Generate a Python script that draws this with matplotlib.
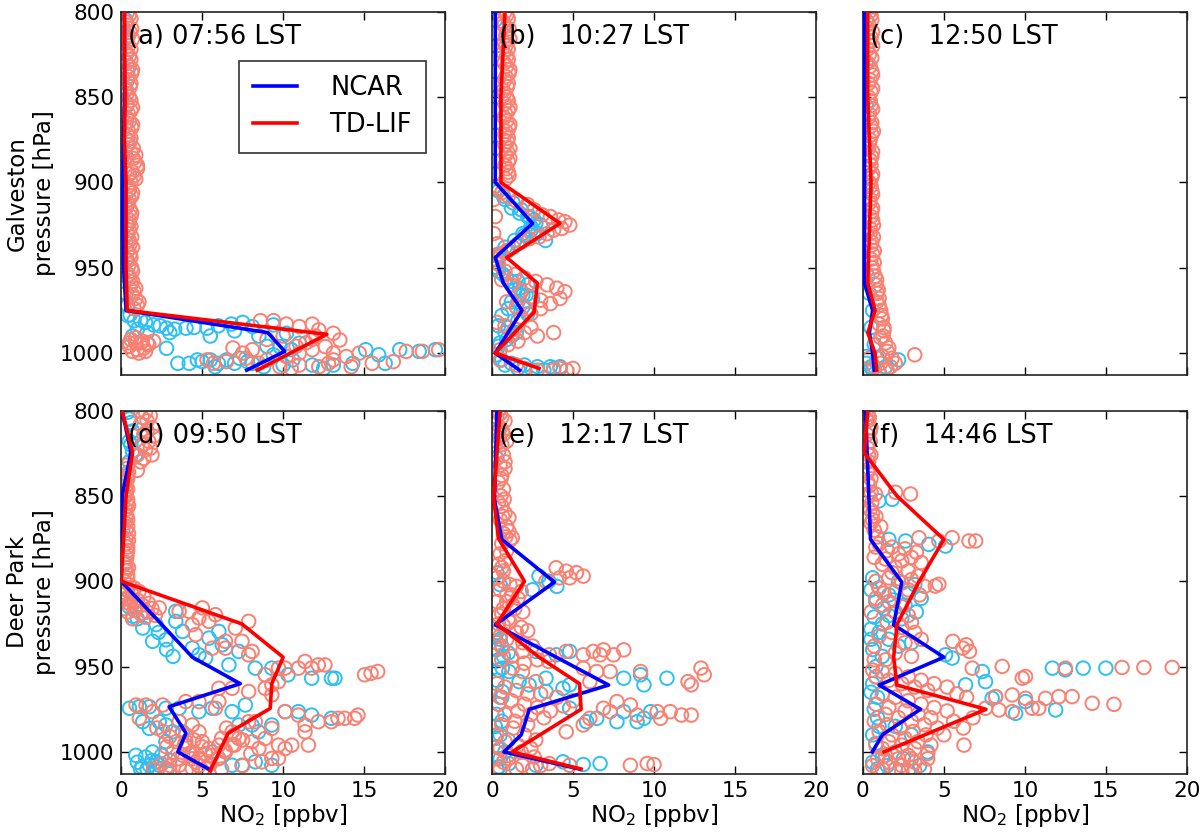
import numpy as np
import matplotlib
matplotlib.use('Agg')
import matplotlib.pyplot as plt

plt.rcParams['font.family'] = ['DejaVu Sans']

# ---- panel labels ----
panel_labels = ['(a) 07:56 LST', '(b)   10:27 LST', '(c)   12:50 LST',
                '(d) 09:50 LST', '(e)   12:17 LST', '(f)   14:46 LST']
row_labels = ['Galveston\npressure [hPa]', 'Deer Park\npressure [hPa]']
xlabel = 'NO$_2$ [ppbv]'

# ---- binned profiles (x = NO2 ppbv, p = hPa) ----
ncar_prof_a_x = [0.2, 0.2, 0.2, 0.15, 0.1, 0.1, 0.15, 0.3, 9.05, 10.1, 7.75]
ncar_prof_a_p = [800, 825, 850, 875, 900, 925, 950, 975, 988, 999, 1010]
tdlif_prof_a_x = [0.2, 0.2, 0.25, 0.2, 0.3, 0.3, 0.3, 0.37, 12.7, 8.4]
tdlif_prof_a_p = [800, 825, 850, 875, 900, 925, 950, 975, 989, 1010]

ncar_prof_b_x = [0.2, 0.2, 0.2, 0.2, 0.2, 2.5, 0.2, 0.7, 1.85, 0.2, 1.7]
ncar_prof_b_p = [800, 825, 850, 875, 900, 924, 944, 959, 975, 1000, 1010]
tdlif_prof_b_x = [0.8, 0.55, 0.55, 4.2, 0.9, 2.8, 2.6, 0.2, 2.9]
tdlif_prof_b_p = [800, 849, 900, 924, 944, 959, 976, 1000, 1009]

ncar_prof_c_x = [0.1, 0.1, 0.1, 0.1, 0.6, 0.4, 0.6, 0.7]
ncar_prof_c_p = [800, 850, 900, 959, 975, 988, 1000, 1010]
tdlif_prof_c_x = [0.3, 0.3, 0.5, 0.3, 0.75, 0.3, 0.75, 0.85]
tdlif_prof_c_p = [800, 850, 900, 959, 975, 988, 1000, 1010]

ncar_prof_d_x = [0.06, 0.6, 0.06, 0.03, 0.0, 4.4, 7.35, 2.96, 4.0, 3.5, 5.4]
ncar_prof_d_p = [800, 824.5, 850, 875, 900, 944.5, 960, 973.5, 989, 1000, 1010]
tdlif_prof_d_x = [0.06, 0.7, 0.3, 0.0, 7.45, 10.0, 9.3, 9.2, 6.6, 5.5]
tdlif_prof_d_p = [800, 824.5, 850, 900, 925, 944.5, 960, 974.5, 989, 1011]

ncar_prof_e_x = [0.3, 0.15, 0.6, 3.85, 0.2, 7.2, 2.3, 1.8, 0.73, 5.4]
ncar_prof_e_p = [800, 852, 875.5, 900.5, 925.5, 960.8, 975, 990, 1000, 1010]
tdlif_prof_e_x = [0.5, 0.1, 0.4, 2.0, 0.3, 2.9, 5.4, 5.5, 1.25, 5.5]
tdlif_prof_e_p = [800, 852, 875, 900, 925, 944.5, 960, 975, 1000, 1010]

ncar_prof_f_x = [0.16, 0.47, 2.4, 1.9, 5.0, 1.0, 3.55, 1.2, 0.58]
ncar_prof_f_p = [800, 875.5, 900.5, 925.5, 944.5, 960.8, 975, 990, 1000]
tdlif_prof_f_x = [0.3, 0.1, 2.1, 5.0, 3.45, 2.1, 1.9, 2.1, 7.6, 1.3]
tdlif_prof_f_p = [800, 825, 850, 875.5, 900.5, 925.5, 944.5, 960.8, 975, 1000]

# ---- individual measurements (x, p) ----
ncar_pts_a = [
    (0.3, 805), (0.35, 815), (0.3, 825), (0.4, 835), (0.3, 845), (0.35, 855),
    (0.3, 865), (0.4, 875), (0.3, 885), (0.5, 895), (0.45, 905), (0.3, 915),
    (0.35, 925), (0.3, 935), (0.3, 945), (0.35, 955), (0.3, 965), (0.4, 972),
    (0.55, 977.6), (1.2, 980.6), (2.0, 983.5), (2.8, 985.4), (4.0, 985.4),
    (5.3, 985.4), (8.1, 984.5), (9.4, 983.5), (10.2, 988.4), (11.0, 994.2),
    (9.8, 996.2), (2.8, 997.2), (4.7, 1004), (5.5, 1004), (6.5, 1004),
    (7.3, 1003), (8.1, 1006), (9.4, 1001), (10.6, 1004), (11.8, 1007),
    (13.1, 1007), (14.3, 1006), (15.1, 998), (15.9, 1001), (16.3, 1006),
    (18.4, 999), (19.4, 998), (17.2, 998), (1.0, 986), (1.6, 988), (0.7, 990),
    (0.4, 978), (0.8, 981), (1.5, 982), (2.4, 984), (3.3, 986), (4.5, 985),
    (6.0, 984), (6.8, 983), (7.5, 982), (4.2, 1006), (5.0, 1005), (6.0, 1006),
    (7.0, 1006), (7.8, 1005), (3.0, 988), (5.5, 990), (7.0, 987), (8.5, 990),
    (9.0, 996), (10.5, 998), (3.5, 1006), (5.8, 1008), (8.8, 1008),
    (10.0, 1007), (12.5, 1009)]
tdlif_pts_a = [
    (0.4, 800), (0.6, 804), (0.35, 808), (0.55, 812), (0.7, 816), (0.45, 820),
    (0.3, 824), (0.6, 828), (0.5, 832), (0.65, 836), (0.4, 840), (0.55, 844),
    (0.35, 848), (0.6, 852), (0.7, 856), (0.45, 860), (0.5, 864), (0.65, 868),
    (0.4, 872), (0.55, 876), (0.75, 880), (0.9, 884), (0.85, 888), (1.0, 892),
    (0.8, 896), (0.6, 900), (0.5, 904), (0.65, 908), (0.4, 912), (0.55, 916),
    (0.6, 920), (0.45, 924), (0.5, 928), (0.65, 932), (0.55, 936), (0.4, 940),
    (0.6, 944), (0.5, 948), (0.7, 952), (0.55, 956), (0.6, 960), (0.8, 964),
    (0.9, 968), (1.0, 972),
    (0.5, 802), (0.3, 806), (0.65, 810), (0.45, 814), (0.35, 818), (0.6, 822),
    (0.5, 826), (0.35, 830), (0.7, 834), (0.45, 838), (0.6, 842), (0.3, 846),
    (0.5, 850), (0.4, 854), (0.6, 858), (0.35, 862), (0.7, 866), (0.45, 870),
    (0.6, 874), (0.4, 878), (0.6, 882), (0.75, 886), (1.0, 890), (0.7, 894),
    (0.9, 898), (0.45, 902), (0.7, 906), (0.5, 910), (0.35, 914), (0.65, 918),
    (0.5, 922), (0.6, 926), (0.4, 930), (0.5, 934), (0.7, 938), (0.55, 942),
    (0.4, 946), (0.65, 950), (0.45, 954), (0.7, 958), (0.9, 962), (0.7, 966),
    (1.1, 970), (0.8, 974),
    (0.9, 994), (1.2, 994), (1.6, 994), (2.0, 993), (0.5, 996),
    (1.0, 998), (1.4, 997), (6.9, 997), (8.1, 998), (8.6, 981), (9.4, 981),
    (10.2, 983), (11.0, 984.5), (11.8, 983), (12.2, 986.4), (13.1, 988.4),
    (13.5, 992.3), (12.6, 996.2), (11.8, 998), (11.0, 1000), (10.2, 1002),
    (9.0, 1004), (7.7, 1003), (6.5, 1005), (5.7, 1006), (5.3, 1004),
    (9.8, 1008), (11.0, 1007), (12.2, 1008), (13.1, 1004), (13.9, 1002),
    (14.7, 1000), (15.5, 1006), (16.8, 1005), (17.6, 999), (18.6, 999),
    (19.6, 998), (11.4, 994), (10.8, 996), (12.0, 990), (13.1, 1000),
    (0.6, 992), (0.9, 991), (1.3, 993), (1.7, 995), (0.7, 999), (1.1, 1000),
    (1.5, 999), (0.5, 994), (9.0, 992), (10.0, 990), (11.8, 992), (7.5, 1000),
    (8.5, 1006), (10.5, 1009), (12.8, 1006), (14.2, 1008)]

ncar_pts_b = [
    (0.2, 805), (0.25, 820), (0.2, 835), (0.3, 850), (0.2, 865), (0.25, 880),
    (0.2, 895), (0.4, 905), (0.8, 910), (1.2, 915), (1.7, 918), (2.2, 920),
    (2.6, 922), (3.0, 925), (2.4, 928), (2.0, 931), (2.8, 930), (3.3, 934),
    (1.6, 936), (1.0, 940), (0.5, 943), (0.3, 947), (0.4, 952), (0.9, 956),
    (1.6, 958), (2.2, 960), (1.4, 963), (1.9, 966), (2.5, 968), (1.2, 970),
    (1.9, 973), (2.2, 977), (1.6, 981), (1.0, 985), (1.5, 988), (0.9, 992),
    (0.4, 996), (0.3, 1001), (0.6, 1004), (1.2, 1006), (2.0, 1007),
    (2.8, 1008), (3.6, 1008), (4.2, 1008),
    (0.3, 904), (0.7, 908), (1.3, 912), (1.8, 916), (2.3, 920), (2.7, 924),
    (2.4, 926), (1.9, 930), (1.4, 934), (0.8, 938), (0.4, 942),
    (0.3, 950), (0.7, 954), (1.2, 958), (1.7, 962), (2.1, 966), (1.6, 970),
    (1.0, 974), (0.6, 978), (0.4, 984), (0.8, 988), (1.2, 990), (0.5, 994),
    (0.8, 1007), (1.6, 1009), (2.5, 1010), (3.2, 1010), (3.8, 1009)]
tdlif_pts_b = [
    (0.8, 800), (1.0, 804), (0.75, 808), (0.95, 812), (1.1, 816), (0.85, 820),
    (0.7, 824), (1.0, 828), (0.9, 832), (1.05, 836), (0.8, 840), (0.95, 844),
    (0.75, 848), (1.0, 852), (1.1, 856), (0.85, 860), (0.9, 864), (1.05, 868),
    (0.8, 872), (0.95, 876), (1.1, 880), (0.85, 884), (1.0, 888), (0.9, 892),
    (1.05, 896),
    (0.9, 802), (0.7, 806), (1.05, 810), (0.85, 814), (0.75, 818), (1.0, 822),
    (0.9, 826), (0.75, 830), (1.1, 834), (0.85, 838), (1.0, 842), (0.7, 846),
    (0.9, 850), (0.8, 854), (1.0, 858), (0.75, 862), (1.1, 866), (0.85, 870),
    (1.0, 874), (0.8, 878), (0.95, 882), (1.1, 886), (0.8, 890), (1.0, 894),
    (0.85, 898),
    (0.3, 902), (0.6, 906), (1.0, 908), (1.5, 911), (2.2, 913), (2.6, 916),
    (3.1, 919), (3.6, 920), (4.1, 922), (4.5, 923), (4.8, 925), (4.3, 927),
    (3.8, 928), (3.4, 930), (2.9, 932), (2.3, 933), (1.8, 935), (1.3, 938),
    (0.9, 940), (0.5, 942), (0.2, 945), (0.1, 910), (0.2, 920), (0.1, 930),
    (0.3, 936),
    (0.4, 948), (0.8, 952), (1.4, 954), (2.0, 956), (2.7, 958), (3.4, 960),
    (4.0, 962), (4.5, 964), (4.2, 968), (3.6, 971), (3.0, 974), (2.4, 977),
    (1.8, 979), (0.6, 957), (1.2, 960), (1.8, 964), (2.4, 967), (3.0, 969),
    (0.9, 970), (1.5, 973), (2.1, 974),
    (0.3, 982), (0.8, 984), (1.4, 986), (2.0, 988), (2.8, 990), (1.6, 993),
    (1.0, 995), (0.5, 998), (2.4, 985), (1.2, 989), (3.8, 988),
    (0.5, 1004), (1.5, 1007), (2.0, 1009), (2.8, 1010), (3.8, 1010),
    (4.6, 1010), (5.0, 1009), (4.2, 1009)]

ncar_pts_c = [
    (0.2, 805), (0.2, 830), (0.2, 855), (0.2, 880), (0.2, 905), (0.2, 930),
    (0.3, 955), (0.4, 965), (0.6, 975), (0.5, 985), (0.7, 995), (0.9, 1003),
    (0.2, 1006), (2.2, 1004), (1.4, 1008), (0.6, 1010), (0.2, 1002),
    (0.5, 1008), (0.3, 1011), (1.0, 1011)]
tdlif_pts_c = [
    (0.4, 800), (0.55, 805), (0.35, 810), (0.5, 815), (0.6, 820), (0.4, 825),
    (0.3, 830), (0.55, 835), (0.45, 840), (0.6, 845), (0.35, 850), (0.5, 855),
    (0.4, 860), (0.55, 865), (0.65, 870), (0.45, 875), (0.35, 880), (0.55, 885),
    (0.5, 890), (0.6, 895), (0.4, 900), (0.55, 905), (0.45, 910), (0.6, 915),
    (0.5, 920), (0.65, 925), (0.45, 930), (0.55, 935), (0.7, 940), (0.5, 945),
    (0.6, 950), (0.75, 955), (0.8, 960), (0.95, 963), (1.0, 968), (0.85, 970),
    (1.1, 975), (1.2, 980), (1.0, 983), (1.3, 987), (1.1, 991), (1.4, 994),
    (1.6, 997), (1.2, 1002), (1.8, 1003), (2.0, 1006), (1.5, 1010),
    (1.1, 1006), (0.7, 1008), (3.2, 1001), (0.4, 1003),
    (0.5, 802), (0.35, 807), (0.6, 812), (0.45, 817), (0.3, 822), (0.55, 827),
    (0.45, 832), (0.6, 837), (0.35, 842), (0.5, 847), (0.45, 852), (0.6, 857),
    (0.35, 862), (0.5, 867), (0.55, 872), (0.4, 877), (0.6, 882), (0.45, 887),
    (0.35, 892), (0.55, 897), (0.5, 902), (0.6, 907), (0.4, 912), (0.55, 917),
    (0.6, 922), (0.45, 927), (0.65, 932), (0.5, 937), (0.6, 942), (0.7, 947),
    (0.65, 952), (0.85, 957), (0.9, 965), (1.0, 972), (1.15, 978), (1.3, 985),
    (1.25, 990), (1.5, 999), (1.7, 1008)]

ncar_pts_d = [
    (0.5, 805), (0.7, 812), (0.6, 820), (0.9, 826), (0.5, 830), (0.4, 838),
    (0.4, 801), (0.6, 807), (0.8, 815), (0.5, 818), (0.7, 824),
    (0.2, 850), (0.1, 870), (0.2, 890), (0.3, 905), (0.8, 912), (0.5, 915),
    (1.0, 922), (2.3, 930), (2.8, 940), (3.2, 944),
    (1.33, 918.6), (0.71, 920.5), (1.33, 927.4), (2.15, 925.4), (1.94, 935.2),
    (2.76, 934.3), (3.37, 917.6), (3.37, 923.5), (3.79, 929.4), (4.39, 939.2),
    (4.8, 943.1), (5.21, 945), (5.42, 933.3), (6.03, 929.4), (6.24, 937.2),
    (6.65, 949), (7.26, 941.1), (8.28, 950.9), (9.3, 950.9), (10.3, 954.8),
    (11.76, 956.8), (12.98, 956.8), (13.2, 956.8),
    (0.51, 974.4), (1.12, 973.5), (1.74, 973.5), (2.76, 974.4), (3.58, 974.4),
    (1.33, 982.3), (2.35, 982.3), (1.74, 986.2), (2.76, 984.2), (3.17, 988.2),
    (1.94, 1000), (2.15, 1005.8), (1.74, 1007.8), (2.35, 1007.8), (2.76, 994),
    (3.79, 988.2), (3.99, 996), (4.8, 976.4), (5.62, 974.4), (6.85, 976.4),
    (7.67, 972.5), (7.26, 984.2), (8.08, 984.2), (8.48, 988.2), (9.3, 984.2),
    (10.12, 976.4), (10.94, 976.4), (11.76, 978.4), (12.98, 980.3),
    (6.85, 1007.8), (7.46, 1007.8), (9.3, 1007.8), (5.62, 1000),
    (6.03, 1003.8), (8.28, 1005.8), (1.3, 1009), (1.0, 1006), (1.6, 1010),
    (0.9, 1002), (1.5, 1003), (1.9, 1005), (2.5, 1002), (3.0, 1005),
    (1.2, 1010), (2.2, 1011), (2.8, 1011)]
tdlif_pts_d = [
    (1.3, 804), (1.6, 806), (1.9, 810), (1.4, 814), (1.7, 818), (1.5, 823),
    (1.9, 826), (1.2, 830), (1.0, 835), (1.1, 800), (1.5, 801), (1.8, 803),
    (1.2, 808), (1.6, 812), (2.0, 815), (1.3, 820), (1.8, 822), (1.0, 826),
    (1.4, 828),
    (0.4, 840), (0.3, 847), (0.4, 854), (0.3, 861), (0.4, 868), (0.3, 875),
    (0.4, 882), (0.3, 889), (0.4, 896), (0.3, 832), (0.45, 836), (0.25, 842),
    (0.4, 846), (0.3, 850), (0.45, 856), (0.3, 858), (0.4, 864), (0.25, 866),
    (0.45, 872), (0.3, 878), (0.4, 880), (0.35, 886), (0.45, 892), (0.3, 894),
    (0.4, 898), (0.35, 834), (0.3, 844), (0.4, 852), (0.35, 862), (0.3, 870),
    (0.45, 876), (0.35, 884), (0.3, 892),
    (0.1, 903), (0.4, 905), (0.7, 908), (0.3, 910), (1.0, 911), (0.5, 913),
    (1.3, 914), (0.2, 916), (0.8, 917), (1.6, 918), (0.2, 900), (0.5, 902),
    (0.8, 904), (1.1, 906), (0.3, 907), (1.4, 909), (0.6, 911), (1.7, 913),
    (0.9, 915), (1.9, 916), (0.4, 918), (1.2, 919), (2.1, 920), (0.7, 922),
    (1.5, 921),
    (2.35, 915.6), (3.58, 917.6), (4.19, 917.6), (4.8, 921.5), (5.01, 915.6),
    (4.39, 925.4), (5.42, 923.5), (5.82, 919.6), (4.6, 931.3), (5.62, 939.2),
    (6.44, 935.2), (6.44, 939.2), (7.05, 927.4), (7.46, 935.2), (7.87, 923.5),
    (7.87, 943.1), (8.08, 941.1), (9.71, 950.9), (10.12, 950.9),
    (10.94, 950.9), (11.35, 947), (11.76, 950.9), (12.17, 949), (12.58, 949),
    (15.03, 954.8), (15.43, 953.9), (15.84, 952.9), (8.89, 954.8),
    (9.3, 960.7), (9.71, 958.8), (6.85, 962.7), (6.03, 962.7), (7.87, 964.6),
    (8.89, 962.7), (9.3, 966.6),
    (0.92, 972.5), (1.53, 972.5), (1.12, 980.3), (2.56, 972.5), (1.94, 976.4),
    (3.58, 982.3), (3.99, 994), (4.39, 984.2), (4.8, 988.2), (5.01, 994),
    (5.42, 998), (4.8, 1003.8), (4.39, 1009.7), (2.76, 1009.7),
    (3.58, 1007.8), (5.21, 1009.7), (6.03, 996), (6.44, 1000), (6.85, 996),
    (7.26, 992.1), (6.85, 988.2), (8.08, 994), (9.3, 986.2), (8.89, 992.1),
    (9.71, 996), (10.12, 998), (10.53, 996), (11.35, 984.2), (11.35, 988.2),
    (11.56, 996), (12.17, 982.3), (12.98, 982.3), (13.39, 980.3),
    (13.8, 980.3), (14.42, 980.3), (14.62, 978.4), (10.94, 978.4),
    (10.12, 976.4), (9.3, 1003.8), (9.71, 1003.8), (8.69, 1005.8),
    (7.87, 982.3), (8.28, 982.3), (5.82, 974.4), (6.03, 970.5), (4.8, 970.5),
    (3.99, 970.5), (4.39, 1000), (5.21, 1005.8),
    (4.0, 990), (4.5, 993), (5.0, 997), (4.2, 1001), (3.9, 996), (4.6, 1006),
    (5.2, 1001), (3.5, 1004), (3.0, 1008), (2.5, 1007), (6.5, 986),
    (6.2, 992), (7.0, 990), (2.2, 986), (2.6, 988), (3.0, 991), (3.4, 994),
    (2.8, 997), (3.2, 1000), (3.8, 1002), (4.4, 1004), (4.8, 1008),
    (5.5, 1007), (6.0, 1004), (5.6, 1002), (6.4, 999), (7.0, 996), (7.5, 993),
    (3.0, 1011), (4.0, 1011), (5.0, 1011), (2.0, 1010), (6.2, 1010),
    (7.5, 1008), (8.0, 1001), (8.5, 998)]

ncar_pts_e = [
    (0.3, 804), (0.4, 812), (0.2, 820), (0.3, 828), (2.9, 897), (3.5, 900),
    (4.0, 903), (2.5, 905), (0.3, 895), (0.5, 902), (0.3, 930), (0.6, 938),
    (1.0, 942), (0.4, 946), (2.71, 941.1), (3.96, 943.1), (4.79, 941.1),
    (10.8, 956.8), (8.13, 956.8), (9.17, 954.8), (9.38, 960.7), (4.79, 960.7),
    (3.33, 956.8), (2.29, 960.7), (1.04, 952.9), (3.33, 964.6), (4.38, 962.7),
    (0.63, 950.9), (1.67, 958.8), (0.63, 964.6), (9.38, 980.3), (8.96, 982.3),
    (8.13, 976.4), (7.71, 982.3), (5.84, 982.3), (4.79, 974.4), (6.46, 980.3),
    (9.79, 976.4), (0.2, 985), (0.5, 990), (1.0, 993), (0.3, 997), (0.8, 1000),
    (6.67, 1006.8), (5.63, 1007.4), (4.38, 1005.8), (2.71, 1007.8),
    (1.04, 1006.8), (0.42, 1008.7), (0.2, 928), (0.5, 934), (0.3, 940),
    (0.7, 944), (0.4, 952), (0.3, 958), (0.6, 968), (0.4, 972), (0.3, 978),
    (0.6, 982), (0.2, 992), (0.5, 1004), (0.3, 1010)]
tdlif_pts_e = [
    (0.4, 800), (0.6, 804), (0.8, 806), (0.5, 810), (0.7, 814), (0.9, 818),
    (0.6, 820), (0.4, 824), (0.7, 826), (0.5, 832), (0.8, 834), (0.6, 838),
    (0.4, 842), (0.7, 846), (0.55, 850), (0.4, 854), (0.6, 856), (0.8, 860),
    (0.5, 864), (0.9, 868), (0.7, 872), (1.1, 876), (0.6, 878), (0.9, 882),
    (0.5, 884), (0.8, 888), (0.4, 890), (0.7, 894), (0.5, 802), (0.65, 812),
    (0.45, 816), (0.8, 830), (0.55, 840), (0.75, 852), (0.65, 862),
    (0.85, 874), (0.6, 892),
    (1.04, 862.7), (1.04, 870.6), (1.25, 874.5), (3.96, 892.1),
    (4.58, 894.1), (5.21, 895), (5.63, 897), (4.79, 898), (4.17, 898),
    (3.33, 900), (1.5, 903), (1.2, 908), (1.8, 906), (0.9, 912), (1.4, 916),
    (0.6, 919), (1.0, 922), (0.4, 925), (1.8, 927), (2.2, 929),
    (0.3, 898), (0.7, 900), (1.1, 902), (0.5, 905), (0.9, 908), (1.6, 910),
    (0.3, 912), (1.3, 914), (0.7, 916), (1.9, 918), (0.4, 920), (1.1, 924),
    (0.7, 926), (1.5, 930), (0.5, 932), (0.9, 934), (1.9, 936), (0.3, 936),
    (2.5, 938), (1.2, 944), (0.6, 946), (2.0, 948), (2.8, 946), (3.5, 947),
    (0.63, 939.2), (1.88, 941.1), (3.54, 943.1), (4.58, 941.1), (5.63, 943.1),
    (6.25, 941.1), (6.88, 940.2), (7.5, 943.1), (8.13, 940.2), (6.67, 943.1),
    (12.9, 950.9), (13.1, 954.8), (12.1, 958.8), (12.3, 960.7), (7.29, 952.9),
    (6.46, 952.9), (5.63, 950.9), (6.04, 958.8), (9.17, 952.9), (1.88, 952.9),
    (2.71, 958.8), (1.25, 950.9), (11.0, 976.4), (11.7, 978.4), (12.3, 978.4),
    (10.2, 976.4), (10.4, 980.3), (8.96, 978.4), (8.54, 972.5), (7.71, 970.5),
    (7.29, 976.4), (6.88, 974.4), (6.04, 980.3), (5.63, 984.2), (4.58, 988.2),
    (0.5, 968), (1.2, 970), (2.0, 972), (2.8, 974), (3.6, 976), (4.4, 973),
    (1.6, 976), (2.4, 978), (3.2, 980), (0.8, 978), (1.4, 982), (2.2, 984),
    (5.0, 970), (4.0, 968), (3.0, 966), (1.3, 986), (2.0, 990), (2.7, 993),
    (1.6, 996), (2.4, 998), (1.0, 1002), (8.54, 1007.8), (9.58, 1006.8),
    (10.0, 1007.4), (3.54, 1006.8), (1.88, 1007.8), (1.04, 1003.8),
    (4.79, 1007.8), (0.5, 1010), (0.3, 960), (0.8, 962), (1.5, 964),
    (2.2, 966), (0.4, 972), (0.6, 984), (0.3, 990), (0.8, 994), (0.5, 998),
    (1.8, 1000), (2.6, 1003), (0.7, 1006), (1.5, 1010), (2.5, 1010),
    (3.0, 1008), (0.3, 1004)]

ncar_pts_f = [
    (0.2, 805), (0.15, 830), (0.99, 852.9), (1.81, 852), (1.6, 875.5),
    (2.63, 876.4), (4.07, 878.4), (5.1, 879.4), (0.6, 898), (1.0, 904),
    (1.6, 908), (0.8, 912), (1.3, 916), (2.0, 918), (0.7, 921), (1.2, 925),
    (2.6, 914), (3.2, 902), (3.6, 910), (2.2, 900), (1.0, 930), (1.6, 934),
    (2.2, 938), (3.0, 936), (5.1, 943.1), (5.51, 945), (11.7, 950.9),
    (12.5, 951.9), (13.6, 950.9), (15.0, 950.9), (7.37, 952.9), (7.57, 958.8),
    (6.34, 960.7), (8.19, 967.6), (10.04, 970.5), (11.9, 975.4), (9.43, 977.4),
    (7.98, 968.6), (0.6, 940), (0.8, 950), (0.6, 960), (0.9, 968), (0.7, 975),
    (1.0, 985), (0.8, 995), (2.0, 985), (3.0, 990), (4.0, 1000), (2.5, 1004),
    (0.6, 1006), (1.5, 1008), (3.5, 1008), (0.5, 905), (1.9, 911), (2.8, 907),
    (1.6, 920), (0.5, 928), (2.4, 922), (3.3, 918), (0.5, 934), (1.2, 944),
    (0.8, 956), (0.5, 965), (0.9, 980), (0.6, 990), (1.2, 1003), (0.9, 1010),
    (2.0, 1010), (2.8, 1011)]
tdlif_pts_f = [
    (0.2, 800), (0.4, 804), (0.3, 806), (0.5, 810), (0.25, 814), (0.45, 818),
    (0.3, 822), (0.5, 826), (0.35, 830), (0.4, 834), (0.3, 836), (0.5, 840),
    (0.4, 844), (0.35, 850), (0.55, 854), (0.45, 858), (0.6, 864), (0.5, 866),
    (0.7, 870), (0.3, 802), (0.45, 812), (0.35, 826), (0.3, 842), (0.5, 848),
    (0.6, 860),
    (0.78, 848.9), (2.02, 847.9), (2.94, 848.9), (0.8, 862),
    (1.1, 868), (0.9, 874), (3.46, 874.5), (4.69, 876.4), (6.55, 876.4),
    (6.96, 876.4), (5.51, 874.5), (0.8, 880), (1.5, 882), (2.2, 884),
    (3.0, 886), (3.6, 889), (1.2, 890), (2.0, 892), (2.8, 894), (3.4, 897),
    (1.6, 898), (2.4, 901), (3.8, 903), (1.0, 904), (2.0, 906), (4.47, 902.8),
    (4.69, 901.8), (1.0, 878), (1.8, 880), (2.6, 881), (3.3, 883), (0.7, 886),
    (1.4, 887), (2.4, 888), (1.8, 895), (3.0, 899), (0.8, 900), (2.8, 905),
    (1.3, 907), (3.5, 908),
    (1.2, 914), (2.0, 918), (2.8, 920), (1.5, 924), (2.4, 927),
    (3.2, 930), (1.0, 932), (2.6, 936), (3.6, 934), (0.8, 910), (1.6, 912),
    (2.4, 915), (0.5, 918), (3.0, 924), (1.8, 930), (0.7, 938), (2.0, 942),
    (3.0, 944), (1.4, 946), (0.7, 946),
    (5.55, 935.2), (6.17, 939.2), (6.58, 941.1), (6.38, 937.2), (8.6, 949.9),
    (12.5, 950.9), (16.0, 950.5), (17.35, 950.5), (19.1, 950.5), (6.75, 950.9),
    (9.84, 956.8), (10.04, 955.8), (8.19, 967.6), (9.22, 966.6), (10.04, 968.6),
    (11.28, 968.6), (12.1, 967.6), (12.92, 967.6), (14.16, 971.5),
    (15.5, 972.1), (10.45, 974.4), (10.86, 974.4), (9.22, 976.4), (8.4, 975.4),
    (7.57, 974.4), (6.24, 996),
    (0.8, 956), (1.6, 958), (2.4, 960), (3.2, 962), (4.0, 964), (1.2, 966),
    (2.0, 968), (2.8, 970), (3.6, 972), (4.4, 974), (5.2, 976), (1.4, 978),
    (2.2, 980), (3.0, 982), (3.8, 984), (4.6, 986), (1.0, 988), (1.8, 990),
    (2.6, 992), (3.4, 994), (4.2, 996), (5.0, 990), (1.2, 998), (2.0, 1000),
    (2.8, 1002), (0.9, 1004), (1.6, 1006), (2.4, 1008), (3.2, 1006),
    (4.0, 1004), (5.6, 982), (6.2, 986), (6.8, 980), (0.6, 1008), (1.2, 1010),
    (2.0, 1010), (3.0, 1009), (3.8, 1010), (0.6, 952), (1.2, 953), (2.0, 954),
    (2.8, 956), (3.6, 958), (4.4, 960), (5.2, 962), (5.8, 966), (6.4, 968),
    (0.8, 972), (1.6, 974), (2.6, 976), (3.4, 978), (4.2, 980), (0.7, 982),
    (1.5, 984), (2.3, 986), (3.1, 988), (3.9, 990), (0.8, 996), (1.6, 994),
    (2.4, 996), (3.2, 998), (4.0, 1001), (1.4, 1002), (2.2, 1004),
    (3.0, 1004), (1.0, 1011), (2.4, 1011), (3.2, 1011)]

panels = [
    (ncar_pts_a, tdlif_pts_a, ncar_prof_a_x, ncar_prof_a_p, tdlif_prof_a_x, tdlif_prof_a_p),
    (ncar_pts_b, tdlif_pts_b, ncar_prof_b_x, ncar_prof_b_p, tdlif_prof_b_x, tdlif_prof_b_p),
    (ncar_pts_c, tdlif_pts_c, ncar_prof_c_x, ncar_prof_c_p, tdlif_prof_c_x, tdlif_prof_c_p),
    (ncar_pts_d, tdlif_pts_d, ncar_prof_d_x, ncar_prof_d_p, tdlif_prof_d_x, tdlif_prof_d_p),
    (ncar_pts_e, tdlif_pts_e, ncar_prof_e_x, ncar_prof_e_p, tdlif_prof_e_x, tdlif_prof_e_p),
    (ncar_pts_f, tdlif_pts_f, ncar_prof_f_x, ncar_prof_f_p, tdlif_prof_f_x, tdlif_prof_f_p),
]

fig, axes = plt.subplots(2, 3, figsize=(12, 8.36), dpi=100)
fig.subplots_adjust(left=0.101, right=0.989, bottom=0.074, top=0.986,
                    wspace=0.145, hspace=0.097)

for i, ax in enumerate(axes.flat):
    ncar, tdlif, nx, np_, tx, tp = panels[i]
    ncar = np.array(ncar)
    tdlif = np.array(tdlif)
    ax.scatter(ncar[:, 0], ncar[:, 1], s=95, facecolors='none',
               edgecolors='#2ec0f2', linewidths=1.4, zorder=2)
    ax.scatter(tdlif[:, 0], tdlif[:, 1], s=95, facecolors='none',
               edgecolors='salmon', linewidths=1.4, zorder=2)
    ax.plot(nx, np_, color='blue', lw=2.6, label='NCAR', zorder=3)
    ax.plot(tx, tp, color='red', lw=2.6, label='TD-LIF', zorder=3)

    ax.set_xlim(0, 20)
    ax.set_ylim(1013, 800)
    ax.set_xticks([0, 5, 10, 15, 20])
    ax.set_yticks([800, 850, 900, 950, 1000])
    ax.tick_params(direction='in', top=True, right=True, length=6,
                   width=1, labelsize=15.5, pad=5)
    for sp in ax.spines.values():
        sp.set_linewidth(1.2)
        sp.set_color('#222222')
    ax.text(0.022, 0.93, panel_labels[i], transform=ax.transAxes,
            fontsize=18.5, va='center', ha='left', zorder=4)

    row, col = divmod(i, 3)
    if row == 0:
        ax.set_xticklabels([])
    else:
        ax.set_xlabel(xlabel, fontsize=16.5, labelpad=1)
    if col > 0:
        ax.set_yticklabels([])
    else:
        ax.set_ylabel(row_labels[row], fontsize=16.5, labelpad=3)

leg = axes[0, 0].legend(loc='upper right', bbox_to_anchor=(0.94, 0.865),
                        borderaxespad=0, fancybox=False, fontsize=18.5,
                        handlelength=1.7, handletextpad=1.3, borderpad=0.55,
                        labelspacing=0.45)
leg.get_frame().set_edgecolor('black')
leg.get_frame().set_linewidth(1.2)

fig.savefig('out.png', dpi=100)
